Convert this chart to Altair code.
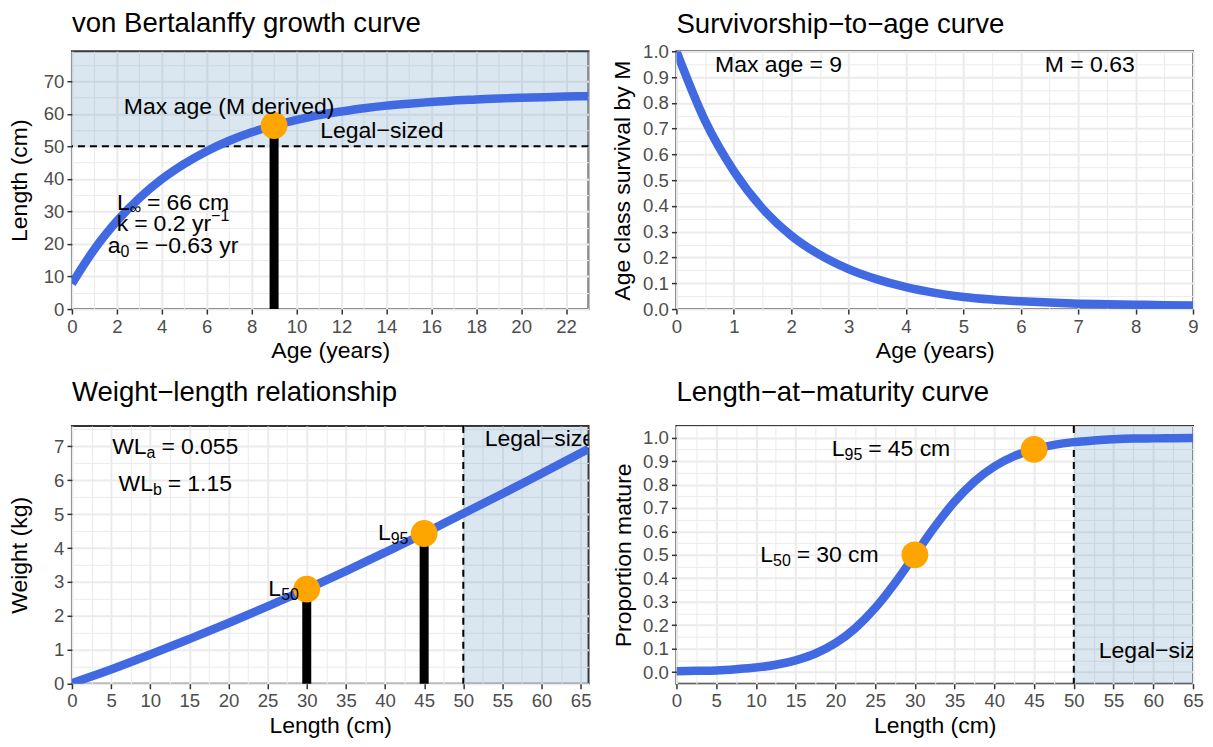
import altair as alt
import pandas as pd

FONT = "Liberation Sans"
BLUE = "#4169E1"
ORANGE = "#FFA500"
SHADE = "#4682B4"

TICK_FS = 18.6
AXT_FS = 23
TITLE_FS = 27.6
ANN_FS = 23
SUB_FS = 16

PW, PH = 517, 258
GAP = 6

# ---------------- data ----------------
# Panel 1: von Bertalanffy growth
growth_age = list(range(24))
growth_len = [7.8, 18.4, 27.0, 34.1, 39.9, 44.6, 48.5, 51.7, 54.3, 56.4, 58.1, 59.6,
              60.7, 61.7, 62.5, 63.1, 63.6, 64.1, 64.4, 64.7, 64.9, 65.1, 65.3, 65.4]
growth_xdomain = [0, 23]
growth_ydomain = [0, 79.2]
max_age = [9]
len_at_max_age = [56.4]
legal_size = 50

# Panel 2: survivorship
surv_age = [0, 0.5, 1, 1.5, 2, 2.5, 3, 3.5, 4, 4.5, 5, 5.5, 6, 6.5, 7, 7.5, 8, 8.5, 9]
surv_val = [1.0, 0.73, 0.535, 0.39, 0.285, 0.21, 0.155, 0.115, 0.085, 0.063, 0.047,
            0.037, 0.030, 0.025, 0.021, 0.019, 0.017, 0.015, 0.014]
surv_xdomain = [0, 9]
surv_ydomain = [0, 1]

# Panel 3: weight-length
wl_len = [0, 5, 10, 15, 20, 25, 30, 35, 40, 45, 50, 55, 60, 65, 66]
wl_wt = [0.02, 0.42, 0.86, 1.32, 1.79, 2.28, 2.79, 3.32, 3.87, 4.43, 5.02, 5.60, 6.20, 6.80, 6.92]
wl_xdomain = [0, 66]
wl_ydomain = [0, 7.6]
mat_lengths = [30, 45]
mat_weights = [2.79, 4.43]

# Panel 4: length-at-maturity
mat_len = [0, 2.5, 5, 7.5, 10, 12.5, 15, 17.5, 20, 22.5, 25, 27.5, 30, 32.5, 35, 37.5,
           40, 42.5, 45, 47.5, 50, 52.5, 55, 57.5, 60, 62.5, 65]
mat_p = [0.003, 0.005, 0.007, 0.012, 0.019, 0.031, 0.05, 0.079, 0.123, 0.187, 0.273, 0.38,
         0.5, 0.62, 0.727, 0.813, 0.877, 0.921, 0.95, 0.969, 0.981, 0.988, 0.993, 0.996,
         0.997, 0.998, 0.999]
mat_xdomain = [0, 65]
mat_ydomain = [-0.05, 1.05]
mat_points_p = [0.5, 0.95]

# Arial-like advance widths (per 1000 em) for laying out composite labels
WID = {"L": 556, "W": 944, "k": 500, "a": 556, "b": 556, " ": 278, "=": 584, ".": 278,
       "c": 500, "m": 833, "y": 500, "r": 333, "\u2212": 584, "\u221e": 713, "M": 833}


def tw(s, size):
    return sum(WID.get(ch, 556) for ch in s) / 1000.0 * size


def axis(values, test, fmt, title, title_x=None):
    kw = {}
    if title_x is not None:
        kw = dict(titleX=title_x, titleBaseline="middle")
    return alt.Axis(
        values=values,
        title=title,
        labelExpr=f"({test}) ? format(datum.value, '{fmt}') : ''",
        gridWidth={"condition": {"test": test, "value": 2.0}, "value": 1.0},
        tickOpacity={"condition": {"test": test, "value": 1}, "value": 0},
        labelOverlap=False,
        labelFlush=False,
        **kw,
    )


def make_enc(xdom, ydom, xvals, xtest, xfmt, xtitle, yvals, ytest, yfmt, ytitle, ytitle_x):
    def X(field="x"):
        return alt.X(f"{field}:Q", scale=alt.Scale(domain=xdom, nice=False, zero=False),
                     axis=axis(xvals, xtest, xfmt, xtitle))

    def Y(field="y"):
        return alt.Y(f"{field}:Q", scale=alt.Scale(domain=ydom, nice=False, zero=False),
                     axis=axis(yvals, ytest, yfmt, ytitle, ytitle_x))
    return X, Y


def math_text(X, Y, x, y, pieces, align="center"):
    """pieces: (text, fontSize, dy, gap_before_px)"""
    df = pd.DataFrame({"x": [x], "y": [y]})
    total = sum(tw(t, s) + g for t, s, _, g in pieces)
    off = -total / 2 if align == "center" else (-total if align == "right" else 0)
    layers = []
    for t, s, dy, g in pieces:
        off += g
        layers.append(alt.Chart(df).mark_text(align="left", baseline="middle", fontSize=s,
                                              dx=off, dy=dy, text=t, color="black")
                      .encode(x=X(), y=Y()))
        off += tw(t, s)
    return layers


def plain_text(X, Y, x, y, text, clip=False):
    df = pd.DataFrame({"x": [x], "y": [y]})
    return alt.Chart(df).mark_text(align="center", baseline="middle", fontSize=ANN_FS,
                                   text=text, color="black", clip=clip).encode(x=X(), y=Y())


# ---------------- Panel 1 ----------------
X1, Y1 = make_enc(growth_xdomain, growth_ydomain, list(range(24)), "datum.value % 2 === 0", "d",
                  "Age (years)", list(range(0, 80, 5)), "datum.value % 10 === 0", "d", "Length (cm)", -52)
g_df = pd.DataFrame({"x": growth_age, "y": growth_len})
rect1 = alt.Chart(pd.DataFrame({"x": [growth_xdomain[0]], "x2": [growth_xdomain[1]],
                                "y": [legal_size], "y2": [growth_ydomain[1]]})).mark_rect(
    color=SHADE, opacity=0.2).encode(x=X1(), x2="x2", y=Y1(), y2="y2")
dash1 = alt.Chart(pd.DataFrame({"y": [legal_size]})).mark_rule(
    color="black", strokeDash=[7, 5], strokeWidth=2).encode(y=Y1())
line1 = alt.Chart(g_df).mark_line(color=BLUE, strokeWidth=8.5, interpolate="monotone", clip=True).encode(
    x=X1(), y=Y1())
bar1 = alt.Chart(pd.DataFrame({"x": max_age, "y": [0], "y2": len_at_max_age})).mark_rule(
    color="black", strokeWidth=9).encode(x=X1(), y=Y1(), y2="y2")
pt1 = alt.Chart(pd.DataFrame({"x": max_age, "y": len_at_max_age})).mark_point(
    filled=True, shape="circle", size=720, color=ORANGE, opacity=1).encode(x=X1(), y=Y1())
t1a = plain_text(X1, Y1, 7.0, 62, "Max age (M derived)")
t1b = plain_text(X1, Y1, 13.8, 54.7, "Legal\u2212sized")
m1 = math_text(X1, Y1, 4.5, 32.7, [("L", ANN_FS, 0, 0), ("\u221e", SUB_FS, 6, 0),
                                   ("=", ANN_FS, 0, GAP), ("66 cm", ANN_FS, 0, GAP)])
m2 = math_text(X1, Y1, 4.5, 26.1, [("k", ANN_FS, 0, 0), ("=", ANN_FS, 0, GAP),
                                   ("0.2 yr", ANN_FS, 0, GAP), ("\u22121", SUB_FS, -8, 0)])
m3 = math_text(X1, Y1, 4.5, 19.5, [("a", ANN_FS, 0, 0), ("0", SUB_FS, 6, 0),
                                   ("=", ANN_FS, 0, GAP), ("\u22120.63 yr", ANN_FS, 0, GAP)])
p1 = alt.layer(rect1, dash1, line1, bar1, pt1, t1a, t1b, *m1, *m2, *m3).properties(
    width=PW, height=PH,
    title=alt.TitleParams("von Bertalanffy growth curve", anchor="start", frame="group", offset=14))

# ---------------- Panel 2 ----------------
X2, Y2 = make_enc(surv_xdomain, surv_ydomain, [i * 0.5 for i in range(19)], "datum.value % 1 === 0", "d",
                  "Age (years)", [round(i * 0.05, 2) for i in range(21)],
                  "abs(datum.value*10 - round(datum.value*10)) < 0.001", ".1f", "Age class survival by M", -54)
s_df = pd.DataFrame({"x": surv_age, "y": surv_val})
line2 = alt.Chart(s_df).mark_line(color=BLUE, strokeWidth=8.5, interpolate="monotone", clip=True).encode(
    x=X2(), y=Y2())
t2a = plain_text(X2, Y2, 1.78, 0.947, "Max age = 9")
t2b = plain_text(X2, Y2, 7.2, 0.947, "M = 0.63")
p2 = alt.layer(line2, t2a, t2b).properties(
    width=PW, height=PH,
    title=alt.TitleParams("Survivorship\u2212to\u2212age curve", anchor="start", frame="group", offset=4))

# ---------------- Panel 3 ----------------
X3, Y3 = make_enc(wl_xdomain, wl_ydomain, [i * 2.5 for i in range(27)], "datum.value % 5 === 0", "d",
                  "Length (cm)", [i * 0.5 for i in range(16)], "datum.value % 1 === 0", "d", "Weight (kg)", -52)
w_df = pd.DataFrame({"x": wl_len, "y": wl_wt})
rect3 = alt.Chart(pd.DataFrame({"x": [legal_size], "x2": [wl_xdomain[1]],
                                "y": [wl_ydomain[0]], "y2": [wl_ydomain[1]]})).mark_rect(
    color=SHADE, opacity=0.2).encode(x=X3(), x2="x2", y=Y3(), y2="y2")
dash3 = alt.Chart(pd.DataFrame({"x": [legal_size]})).mark_rule(
    color="black", strokeDash=[7, 5], strokeWidth=2).encode(x=X3())
line3 = alt.Chart(w_df).mark_line(color=BLUE, strokeWidth=8.5, interpolate="monotone", clip=True).encode(
    x=X3(), y=Y3())
bar3 = alt.Chart(pd.DataFrame({"x": mat_lengths, "y": [0, 0], "y2": mat_weights})).mark_rule(
    color="black", strokeWidth=9).encode(x=X3(), y=Y3(), y2="y2")
pt3 = alt.Chart(pd.DataFrame({"x": mat_lengths, "y": mat_weights})).mark_point(
    filled=True, shape="circle", size=720, color=ORANGE, opacity=1).encode(x=X3(), y=Y3())
m4 = math_text(X3, Y3, 13.2, 6.97, [("WL", ANN_FS, 0, 0), ("a", SUB_FS, 6, 0),
                                    ("=", ANN_FS, 0, GAP), ("0.055", ANN_FS, 0, GAP)])
m5 = math_text(X3, Y3, 13.2, 5.9, [("WL", ANN_FS, 0, 0), ("b", SUB_FS, 6, 0),
                                   ("=", ANN_FS, 0, GAP), ("1.15", ANN_FS, 0, GAP)])
m6 = math_text(X3, Y3, 29.0, 2.79, [("L", ANN_FS, 0, 0), ("50", SUB_FS, 6, 0)], align="right")
m7 = math_text(X3, Y3, 43.0, 4.43, [("L", ANN_FS, 0, 0), ("95", SUB_FS, 6, 0)], align="right")
t3 = plain_text(X3, Y3, 60.6, 7.23, "Legal\u2212sized", clip=True)
p3 = alt.layer(rect3, dash3, line3, bar3, pt3, *m4, *m5, *m6, *m7, t3).properties(
    width=PW, height=PH,
    title=alt.TitleParams("Weight\u2212length relationship", anchor="start", frame="group", offset=14))

# ---------------- Panel 4 ----------------
X4, Y4 = make_enc(mat_xdomain, mat_ydomain, [i * 2.5 for i in range(27)], "datum.value % 5 === 0", "d",
                  "Length (cm)", [round(i * 0.05 - 0.05, 2) for i in range(23)],
                  "abs(datum.value*10 - round(datum.value*10)) < 0.001", ".1f", "Proportion mature", -53)
m_df = pd.DataFrame({"x": mat_len, "y": mat_p})
rect4 = alt.Chart(pd.DataFrame({"x": [legal_size], "x2": [mat_xdomain[1]],
                                "y": [mat_ydomain[0]], "y2": [mat_ydomain[1]]})).mark_rect(
    color=SHADE, opacity=0.2).encode(x=X4(), x2="x2", y=Y4(), y2="y2")
dash4 = alt.Chart(pd.DataFrame({"x": [legal_size]})).mark_rule(
    color="black", strokeDash=[7, 5], strokeWidth=2).encode(x=X4())
line4 = alt.Chart(m_df).mark_line(color=BLUE, strokeWidth=8.5, interpolate="monotone", clip=True).encode(
    x=X4(), y=Y4())
pt4 = alt.Chart(pd.DataFrame({"x": mat_lengths, "y": mat_points_p})).mark_point(
    filled=True, shape="circle", size=720, color=ORANGE, opacity=1).encode(x=X4(), y=Y4())
m8 = math_text(X4, Y4, 27.0, 0.953, [("L", ANN_FS, 0, 0), ("95", SUB_FS, 6, 0),
                                     ("=", ANN_FS, 0, GAP), ("45 cm", ANN_FS, 0, GAP)])
m9 = math_text(X4, Y4, 18.0, 0.5, [("L", ANN_FS, 0, 0), ("50", SUB_FS, 6, 0),
                                   ("=", ANN_FS, 0, GAP), ("30 cm", ANN_FS, 0, GAP)])
t4 = plain_text(X4, Y4, 60.9, 0.09, "Legal\u2212sized", clip=True)
p4 = alt.layer(rect4, dash4, line4, pt4, *m8, *m9, t4).properties(
    width=PW, height=PH,
    title=alt.TitleParams("Length\u2212at\u2212maturity curve", anchor="start", frame="group", offset=10))

chart = alt.concat(p1, p2, p3, p4, columns=2, spacing={"row": 117, "column": 88}, bounds="flush").configure(
    font=FONT, padding={"left": 0, "top": 0, "right": 0, "bottom": 0}
).configure_view(
    stroke="#333333", strokeWidth=2
).configure_axis(
    labelColor="#4D4D4D", labelFontSize=TICK_FS, labelFont=FONT, labelPadding=3,
    titleFontSize=AXT_FS, titleFont=FONT, titleColor="black", titleFontWeight="normal", titlePadding=4,
    tickColor="#333333", tickSize=5, tickWidth=1.5, domain=False, gridColor="#EBEBEB"
).configure_title(
    fontSize=TITLE_FS, font=FONT, fontWeight="normal", color="black"
)

chart.save("out.html", embed_options={"renderer": "svg", "actions": False})
